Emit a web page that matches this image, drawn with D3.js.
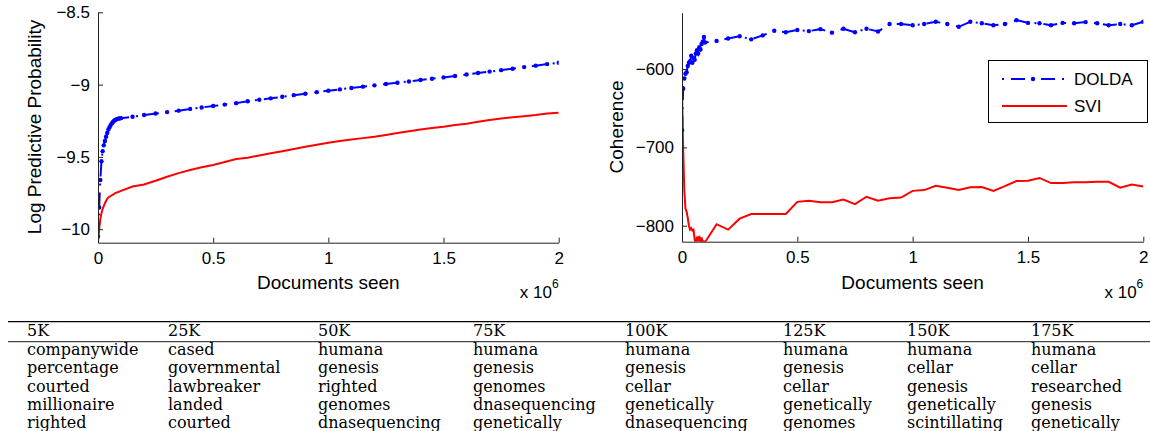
<!DOCTYPE html>
<html>
<head>
<meta charset="utf-8">
<script src="https://cdn.jsdelivr.net/npm/d3@7"></script>
<style>
  body { margin: 0; background: #fff; }
  svg { display: block; }
</style>
</head>
<body>
<svg id="fig" width="1150" height="431"></svg>
<script>
/// DOLDA vs SVI : predictive probability + coherence ///

// documents seen, in millions (x 10^6)
const docsSeen = [
  0, 0.005, 0.01, 0.015, 0.02, 0.025, 0.03, 0.035, 0.04, 0.045, 0.05,
  0.055, 0.06, 0.065, 0.07, 0.075, 0.08, 0.085, 0.09, 0.095, 0.1,
  0.15, 0.2, 0.25, 0.3, 0.35, 0.4, 0.45, 0.5, 0.55, 0.6,
  0.65, 0.7, 0.75, 0.8, 0.85, 0.9, 0.95, 1.0, 1.05, 1.1,
  1.15, 1.2, 1.25, 1.3, 1.35, 1.4, 1.45, 1.5, 1.55, 1.6,
  1.65, 1.7, 1.75, 1.8, 1.85, 1.9, 1.95, 2.0
];

const lppDolda = [
  -10.05, -9.85, -9.66, -9.53, -9.46, -9.42, -9.39, -9.36, -9.335, -9.31, -9.295,
  -9.28, -9.268, -9.258, -9.25, -9.245, -9.24, -9.237, -9.235, -9.233, -9.232,
  -9.222, -9.21, -9.2, -9.19, -9.18, -9.168, -9.158, -9.148, -9.138, -9.128,
  -9.115, -9.105, -9.095, -9.084, -9.073, -9.063, -9.052, -9.042, -9.033, -9.023,
  -9.014, -9.005, -8.996, -8.987, -8.978, -8.968, -8.959, -8.95, -8.94, -8.93,
  -8.92, -8.91, -8.9, -8.89, -8.879, -8.869, -8.858, -8.849
];

const lppSvi = [
  -10.09, -10.0, -9.93, -9.89, -9.86, -9.84, -9.82, -9.805, -9.79, -9.78, -9.775,
  -9.77, -9.765, -9.76, -9.755, -9.75, -9.747, -9.744, -9.741, -9.738, -9.735,
  -9.705, -9.69, -9.665, -9.637, -9.612, -9.59, -9.572, -9.556, -9.535, -9.515,
  -9.505, -9.49, -9.475, -9.46, -9.445, -9.43, -9.416, -9.402, -9.39, -9.38,
  -9.37, -9.36, -9.348, -9.335, -9.322, -9.31, -9.3, -9.291, -9.28, -9.27,
  -9.257, -9.245, -9.235, -9.225, -9.218, -9.21, -9.2, -9.194
];

const cohDolda = [
  -678, -625, -612, -606, -604, -596, -592, -590, -583, -592, -586,
  -588, -580, -576, -580, -572, -575, -568, -565, -559, -566,
  -564, -561, -558, -562, -557, -551, -553, -550, -551.5, -549,
  -553.5, -548.5, -553, -548.5, -552, -542.5, -542.5, -544, -542.5, -539.5,
  -542.5, -546, -539.5, -541.5, -544, -542.5, -537.5, -541, -541.5, -544,
  -541, -541.5, -540, -541.5, -544, -542.5, -544, -539.5
];

const cohSvi = [
  -627, -700, -755, -778, -782, -790, -800, -805, -803, -806, -805,
  -818, -822, -814, -820, -813, -822, -815, -822, -820, -821,
  -798, -805, -791, -785, -785, -785, -785, -769.5, -768, -770,
  -770, -766.5, -772.5, -763, -768, -765, -764, -755.5, -754.5, -749,
  -751.5, -754.5, -751, -750.5, -755.5, -749.5, -743, -742.5, -739, -745.5,
  -745.5, -744.5, -744.5, -744, -744, -751.5, -747.5, -750
];

const xTicks = [0, 0.5, 1, 1.5, 2];
const lppTicks = [-10, -9.5, -9, -8.5];
const cohTicks = [-800, -700, -600];
const seriesNames = ["DOLDA", "SVI"];

// top words per number of documents seen
const tableHeaders = ["5K", "25K", "50K", "75K", "100K", "125K", "150K", "175K"];
const tableWords = [
  ["companywide", "percentage", "courted", "millionaire", "righted"],
  ["cased", "governmental", "lawbreaker", "landed", "courted"],
  ["humana", "genesis", "righted", "genomes", "dnasequencing"],
  ["humana", "genesis", "genomes", "dnasequencing", "genetically"],
  ["humana", "genesis", "cellar", "genetically", "dnasequencing"],
  ["humana", "genesis", "cellar", "genetically", "genomes"],
  ["humana", "cellar", "genesis", "genetically", "scintillating"],
  ["humana", "cellar", "researched", "genesis", "genetically"]
];

const BLUE = "#0000ff", RED = "#ff0000";
const SANS = "'Liberation Sans', Arial, sans-serif";
const SERIF = "'DejaVu Serif', serif";
const DASH = "14,7,2,7";

const svg = d3.select("#fig");

function drawPanel(opts) {
  const g = svg.append("g");
  const x = d3.scaleLinear().domain([0, 2]).range([opts.left, opts.right]);
  const y = d3.scaleLinear().domain(opts.yDomain).range([opts.bottom, opts.top]);

  g.append("clipPath").attr("id", opts.id + "-clip")
    .append("rect")
    .attr("x", opts.left).attr("y", opts.top)
    .attr("width", opts.right - opts.left).attr("height", opts.bottom - opts.top);

  const plot = g.append("g").attr("clip-path", `url(#${opts.id}-clip)`);
  const line = d3.line().x((d, i) => x(docsSeen[i])).y(d => y(d));

  plot.append("path").datum(opts.svi)
    .attr("d", line).attr("fill", "none")
    .attr("stroke", RED).attr("stroke-width", 2);

  plot.append("path").datum(opts.dolda)
    .attr("d", line).attr("fill", "none")
    .attr("stroke", BLUE).attr("stroke-width", 2)
    .attr("stroke-dasharray", DASH);

  plot.selectAll("circle").data(opts.dolda).join("circle")
    .attr("cx", (d, i) => x(docsSeen[i]))
    .attr("cy", d => y(d))
    .attr("r", 2.2).attr("fill", BLUE);

  // axes (ticks point inward, no box)
  const xAxis = g.append("g").attr("transform", `translate(0,${opts.bottom})`)
    .call(d3.axisBottom(x).tickValues(xTicks).tickFormat(d3.format(""))
      .tickSizeInner(-5).tickSizeOuter(0).tickPadding(9));
  const yAxis = g.append("g").attr("transform", `translate(${opts.left},0)`)
    .call(d3.axisLeft(y).tickValues(opts.yTicks).tickFormat(d3.format(""))
      .tickSizeInner(-5).tickSizeOuter(0).tickPadding(8));

  [xAxis, yAxis].forEach(a => {
    a.selectAll("text").attr("font-family", SANS).attr("font-size", 17).attr("fill", "#000");
    a.selectAll("line, path").attr("stroke", "#222");
    a.attr("font-family", null).attr("font-size", null);
  });

  const cx = (opts.left + opts.right) / 2;
  g.append("text").attr("x", cx).attr("y", 289)
    .attr("text-anchor", "middle").attr("font-family", SANS).attr("font-size", 19)
    .text("Documents seen");

  g.append("text")
    .attr("transform", `translate(${opts.yLabelX},127) rotate(-90)`)
    .attr("text-anchor", "middle").attr("font-family", SANS).attr("font-size", 19)
    .text(opts.yLabel);

  const exp = g.append("text").attr("x", opts.right).attr("y", 298)
    .attr("text-anchor", "end").attr("font-family", SANS).attr("font-size", 17);
  exp.append("tspan").text("x 10");
  exp.append("tspan").attr("dy", -10).attr("font-size", 12).text("6");

  return {x, y};
}

drawPanel({
  id: "lpp", left: 98, right: 558.7, top: 12.3, bottom: 242.7,
  yDomain: [-10.093, -8.5], yTicks: lppTicks,
  dolda: lppDolda, svi: lppSvi,
  yLabel: "Log Predictive Probability", yLabelX: 41
});

drawPanel({
  id: "coh", left: 682, right: 1143.3, top: 12.7, bottom: 241.7,
  yDomain: [-820.4, -528], yTicks: cohTicks,
  dolda: cohDolda, svi: cohSvi,
  yLabel: "Coherence", yLabelX: 623
});

// legend
const leg = svg.append("g");
leg.append("rect").attr("x", 988.5).attr("y", 60.5).attr("width", 159).attr("height", 62)
  .attr("fill", "#fff").attr("stroke", "#000").attr("stroke-width", 1);
seriesNames.forEach((name, i) => {
  const ly = 79 + i * 27;
  leg.append("line").attr("x1", 1002).attr("x2", 1067).attr("y1", ly).attr("y2", ly)
    .attr("stroke", i === 0 ? BLUE : RED).attr("stroke-width", 2)
    .attr("stroke-dasharray", i === 0 ? DASH : null)
    .attr("stroke-dashoffset", i === 0 ? 21 : null);
  if (i === 0) leg.append("circle").attr("cx", 1033).attr("cy", ly).attr("r", 2.2).attr("fill", BLUE);
  leg.append("text").attr("x", 1074).attr("y", ly + 6)
    .attr("font-family", SANS).attr("font-size", 17).text(name);
});

// table of top words
const colX = [27, 168, 318, 473, 625, 783, 907, 1031];
const table = svg.append("g").attr("font-family", SERIF).attr("font-size", 16).attr("fill", "#000");
table.append("line").attr("x1", 8).attr("x2", 1150).attr("y1", 321.7).attr("y2", 321.7)
  .attr("stroke", "#000").attr("stroke-width", 1.2);
table.append("line").attr("x1", 8).attr("x2", 1150).attr("y1", 341.7).attr("y2", 341.7)
  .attr("stroke", "#000").attr("stroke-width", 0.9);

tableHeaders.forEach((h, c) => {
  table.append("text").attr("x", colX[c]).attr("y", 336).text(h);
  tableWords[c].forEach((w, r) => {
    table.append("text").attr("x", colX[c]).attr("y", 355 + r * 18.3).text(w);
  });
});
</script>
</body>
</html>
